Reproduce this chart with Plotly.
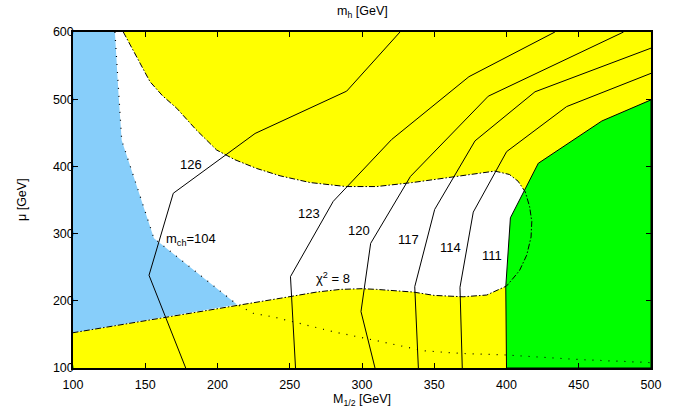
import plotly.graph_objects as go

# ---- data ----
# chi^2 = 8 boundary (allowed region inside)
chi2_x = [134.8, 145, 153.3, 162, 171.8, 185, 199.4, 212, 227, 243.3, 264, 289, 310, 335, 365, 380, 392,
          402, 408, 413, 416, 417.5, 417, 414, 409, 404, 400,
          386.3, 370, 350, 335.5, 310, 300, 285, 268.6, 243.3, 215.6, 100]
chi2_y = [600, 560, 526, 505, 486.5, 455, 424.4, 410, 397, 386, 376, 370, 370, 376, 385, 390, 393,
          388, 378, 362, 340, 318, 295, 268, 245, 232, 222,
          208.6, 206, 208, 213, 217, 218, 217, 213, 203.7, 193.7, 152.5]

# chargino mass bound m_ch = 104 (dotted)
mch_x = [129, 131.4, 133.7, 156, 213.5, 224.6, 238.6, 259.4, 280, 307.8, 342.4, 367.8, 400, 446.2, 500]
mch_y = [600, 511, 439, 293, 194.5, 181.4, 176, 165, 154, 141.7, 125.7, 121.8, 119.3, 113, 108]

# blue excluded region (left)
blue_x = [100, 129, 131.4, 133.7, 156, 213.5, 100]
blue_y = [600, 600, 511, 439, 293, 194.5, 152.5]

# green region (m_h < 111)
green_x = [400, 399.5, 402.7, 422, 466, 500, 500]
green_y = [100, 221, 323.5, 404.6, 467.6, 499, 100]

# m_h contours
mh_contours = {
    "126": ([178, 152.6, 169.4, 226, 289.4, 326.3], [100, 238, 360, 449, 512, 600]),
    "123": ([254, 250.5, 280.1, 320.5, 374, 433.5], [100, 236, 348, 440, 533.5, 600]),
    "120": ([309, 299.3, 306, 333.5, 387.4, 481], [100, 184, 285.5, 385, 504.5, 600]),
    "117": ([339, 336.5, 350.3, 378.2, 419.7, 500], [100, 221, 336, 438, 511, 576]),
    "114": ([369.4, 367.8, 377, 400.1, 441.6, 500], [100, 220, 332, 422, 489, 538.5]),
}

# labels
label_text = ["126", "123", "120", "117", "114", "111", "m<sub>ch</sub>=104", "χ<sup>2</sup> = 8"]
label_x = [182, 263.6, 298, 332.5, 361.4, 389.7, 182, 280.2]
label_y = [403, 329.2, 304.3, 291.5, 279.6, 267, 291.5, 233.5]

x_ticks = [100, 150, 200, 250, 300, 350, 400, 450, 500]
y_ticks = [100, 200, 300, 400, 500, 600]

FONT = "Liberation Sans, Arial, Helvetica, sans-serif"

fig = go.Figure()

# white allowed region
fig.add_trace(go.Scatter(x=[100] + chi2_x + [100], y=[600] + chi2_y + [600], mode="lines",
                         fill="toself", fillcolor="white", line=dict(width=0), hoverinfo="skip"))
# blue region
fig.add_trace(go.Scatter(x=blue_x, y=blue_y, mode="lines", fill="toself",
                         fillcolor="#87CEFA", line=dict(width=0), hoverinfo="skip"))
# green region
fig.add_trace(go.Scatter(x=green_x + [green_x[0]], y=green_y + [green_y[0]], mode="lines", fill="toself",
                         fillcolor="#00FF00", line=dict(width=1, color="black"), hoverinfo="skip"))
# dotted m_ch line
fig.add_trace(go.Scatter(x=mch_x, y=mch_y, mode="lines",
                         line=dict(width=1.2, color="black", dash="1px,7px"), hoverinfo="skip"))
# dash-dot chi2 line
fig.add_trace(go.Scatter(x=chi2_x, y=chi2_y, mode="lines",
                         line=dict(width=1, color="black", dash="6px,2px,1.5px,2px"), hoverinfo="skip"))
# m_h contours
for name, (cx, cy) in mh_contours.items():
    fig.add_trace(go.Scatter(x=cx, y=cy, mode="lines", line=dict(width=1, color="black"),
                             hoverinfo="skip", name=name))

annotations = []
for t, lx, ly in zip(label_text, label_x, label_y):
    annotations.append(dict(x=lx, y=ly, xref="x", yref="y", text=t, showarrow=False,
                            font=dict(family=FONT, size=13, color="black")))
annotations.append(dict(x=0.5, y=1, xref="paper", yref="paper", yshift=20, yanchor="middle",
                        text="m<sub>h</sub> [GeV]",
                        showarrow=False, font=dict(family=FONT, size=12.5, color="black")))
annotations.append(dict(x=0.5, y=0, xref="paper", yref="paper", yshift=-32, yanchor="middle",
                        text="M<sub>1/2</sub> [GeV]",
                        showarrow=False, font=dict(family=FONT, size=12.5, color="black")))
annotations.append(dict(x=0, y=0.5, xref="paper", yref="paper", xshift=-51, xanchor="center",
                        yanchor="middle", text="μ [GeV]",
                        textangle=-90, showarrow=False, font=dict(family=FONT, size=12.5, color="black")))

axis_common = dict(showline=True, linecolor="black", linewidth=1.5, mirror="ticks", ticks="inside",
                   ticklen=5, tickwidth=1, tickcolor="black", showgrid=False, zeroline=False,
                   tickfont=dict(family=FONT, size=12.5, color="black"))

fig.update_layout(
    width=680, height=416,
    margin=dict(l=73, r=29, t=32, b=48, autoexpand=False),
    paper_bgcolor="white", plot_bgcolor="#FFFF00",
    showlegend=False,
    xaxis=dict(range=[100, 500], tickvals=x_ticks, ticklabelstandoff=4, **axis_common),
    yaxis=dict(range=[100, 600], tickvals=y_ticks, ticklabelstandoff=-5, **axis_common),
    annotations=annotations,
)

fig.write_html("out.html", config={"displayModeBar": False},
               post_script="document.body.style.margin='0';document.body.style.overflow='hidden';")
